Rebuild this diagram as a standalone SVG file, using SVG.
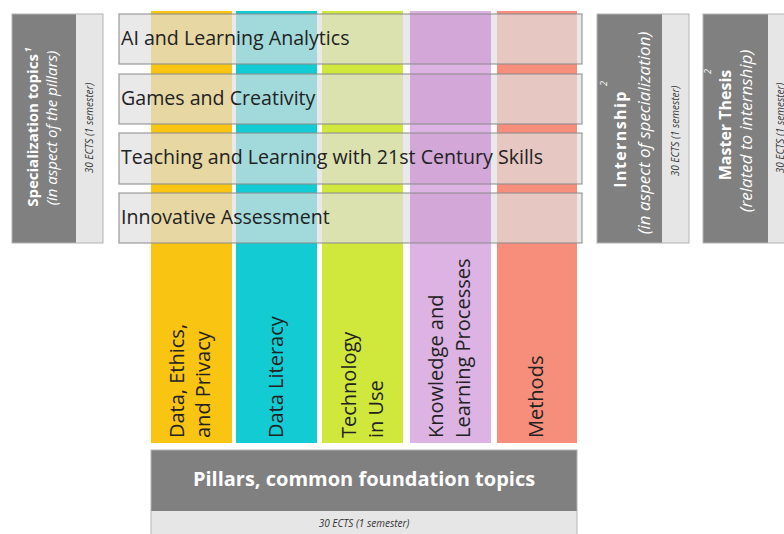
<svg xmlns="http://www.w3.org/2000/svg" width="784" height="534" viewBox="0 0 784 534">
<style>
.dark{fill:#808080;}
.light{fill:#e6e6e6;}
.frame{fill:none;stroke:#b3b3b3;stroke-width:1;}
.t{font-family:"Open Sans","Noto Sans","DejaVu Sans",sans-serif;}
.title{font-weight:bold;font-size:15px;fill:#fff;text-anchor:middle;}
.sub{font-style:italic;font-size:15px;fill:#fff;text-anchor:middle;}
.rtitle{font-weight:bold;font-size:16px;fill:#fff;text-anchor:middle;}
.rsub{font-style:italic;font-size:17px;fill:#fff;text-anchor:middle;}
.ects{font-style:italic;font-size:10px;fill:#333;text-anchor:middle;}
.sup{font-style:italic;font-size:9px;fill:#fff;}
.barfill{fill:#e0e0e0;fill-opacity:0.7;}
.tint{fill:#d4a7d9;}
.barline{fill:none;stroke:#8c8c8c;stroke-opacity:0.8;stroke-width:1.3;}
.bartext{font-size:19.6px;fill:#222;}
.plabel{font-size:20px;fill:#222;}
</style>
<rect width="784" height="534" fill="#fff"/>

<g id="specialization">
<rect class="dark" x="12" y="14" width="64" height="229"/>
<rect class="light" x="76" y="14" width="27" height="229"/>
<rect class="frame" x="12" y="14" width="91" height="229"/>
<text class="t title" transform="translate(38,127) rotate(-90)">Specialization topics<tspan class="sup" dy="-7" dx="2">1</tspan></text>
<text class="t sub" transform="translate(57,128) rotate(-90)">(in aspect of the pillars)</text>
<text class="t ects" transform="translate(93,128) rotate(-90)">30 ECTS (1 semester)</text>
</g>

<g id="internship">
<rect class="dark" x="597" y="14" width="65" height="229"/>
<rect class="light" x="662" y="14" width="27" height="229"/>
<rect class="frame" x="597" y="14" width="92" height="229"/>
<text class="t rtitle" letter-spacing="1.4" transform="translate(626,139) rotate(-90)">Internship</text>
<text class="t rsub" transform="translate(650,133) rotate(-90)">(in aspect of specialization)</text>
<text class="t sup" transform="translate(607,86) rotate(-90)">2</text>
<text class="t ects" transform="translate(679,131) rotate(-90)">30 ECTS (1 semester)</text>
</g>

<g id="master-thesis">
<rect class="dark" x="703" y="14" width="65" height="229"/>
<rect class="light" x="768" y="14" width="27" height="229"/>
<rect class="frame" x="703" y="14" width="92" height="229"/>
<text class="t rtitle" transform="translate(731,125) rotate(-90)">Master Thesis</text>
<text class="t rsub" transform="translate(752,131) rotate(-90)">(related to internship)</text>
<text class="t sup" transform="translate(711,74) rotate(-90)">2</text>
<text class="t ects" transform="translate(784,128) rotate(-90)">30 ECTS (1 semester)</text>
</g>

<g id="pillar-data-ethics">
<rect x="151" y="11" width="81" height="432" fill="#f9c412"/>
<text class="t plabel" transform="translate(184,438) rotate(-90)">Data, Ethics,</text>
<text class="t plabel" transform="translate(210,438) rotate(-90)">and Privacy</text>
</g>
<g id="pillar-data-literacy">
<rect x="236" y="11" width="81" height="432" fill="#12cbd3"/>
<text class="t plabel" transform="translate(283,438) rotate(-90)">Data Literacy</text>
</g>
<g id="pillar-technology">
<rect x="322" y="11" width="81" height="432" fill="#d0e83c"/>
<text class="t plabel" transform="translate(356,438) rotate(-90)">Technology</text>
<text class="t plabel" transform="translate(383,438) rotate(-90)">in Use</text>
</g>
<g id="pillar-knowledge">
<rect x="410" y="11" width="81" height="432" fill="#dcb3e3"/>
<text class="t plabel" transform="translate(443,438) rotate(-90)">Knowledge and</text>
<text class="t plabel" transform="translate(470,438) rotate(-90)">Learning Processes</text>
</g>
<g id="pillar-methods">
<rect x="497" y="11" width="80" height="432" fill="#f78e7b"/>
<text class="t plabel" transform="translate(543,438) rotate(-90)">Methods</text>
</g>

<g id="pillars-base">
<rect class="dark" x="151" y="450" width="426" height="61"/>
<rect class="light" x="151" y="511" width="426" height="30"/>
<rect class="frame" x="151" y="450" width="426" height="90"/>
<text class="t" x="364" y="486" font-size="20" font-weight="bold" fill="#fff" text-anchor="middle">Pillars, common foundation topics</text>
<text class="t ects" x="364" y="527">30 ECTS (1 semester)</text>
</g>

<g id="topic-ai">
<rect class="barfill" x="119" y="14" width="463" height="50"/>
<rect class="tint" x="410" y="14" width="81" height="50"/>
<rect class="barline" x="119" y="14" width="463" height="50"/>
<text class="t bartext" x="121" y="45">AI and Learning Analytics</text>
</g>
<g id="topic-games">
<rect class="barfill" x="119" y="74" width="463" height="50"/>
<rect class="tint" x="410" y="74" width="81" height="50"/>
<rect class="barline" x="119" y="74" width="463" height="50"/>
<text class="t bartext" x="121" y="105">Games and Creativity</text>
</g>
<g id="topic-teaching">
<rect class="barfill" x="119" y="133" width="463" height="51"/>
<rect class="tint" x="410" y="133" width="81" height="51"/>
<rect class="barline" x="119" y="133" width="463" height="51"/>
<text class="t bartext" x="121" y="164">Teaching and Learning with 21st Century Skills</text>
</g>
<g id="topic-assessment">
<rect class="barfill" x="119" y="193" width="463" height="50"/>
<rect class="tint" x="410" y="193" width="81" height="50"/>
<rect class="barline" x="119" y="193" width="463" height="50"/>
<text class="t bartext" x="121" y="224">Innovative Assessment</text>
</g>
<g id="connectors"/>
</svg>
